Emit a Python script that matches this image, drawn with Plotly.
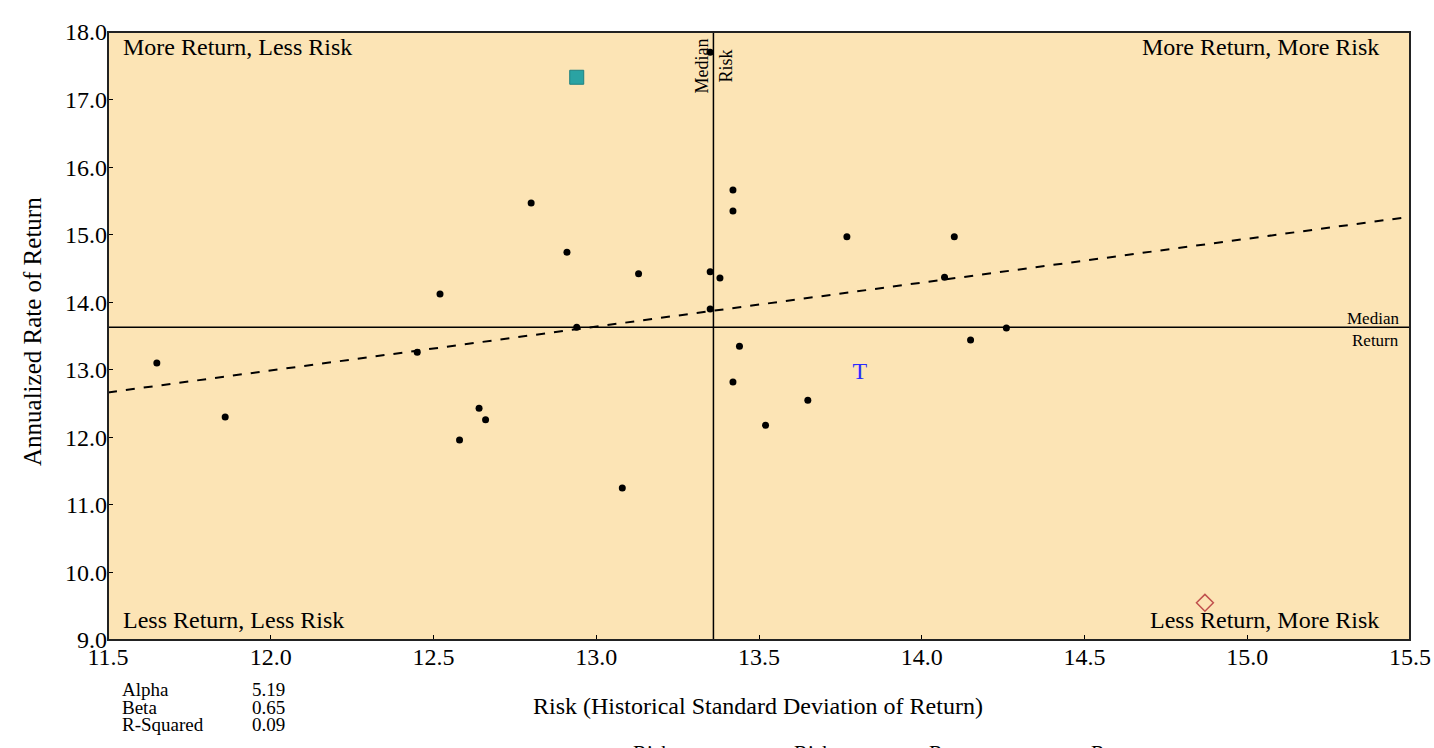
import plotly.graph_objects as go

# ---- data ----
risk = [11.65, 11.86, 12.45, 12.52, 12.64, 12.66, 12.58, 12.80, 12.91, 12.94,
        13.13, 13.08, 13.35, 13.38, 13.35, 13.35, 13.42, 13.42, 13.44, 13.42,
        13.52, 13.65, 13.77, 14.10, 14.07, 14.15, 14.26]
ret = [13.10, 12.30, 13.26, 14.12, 12.43, 12.26, 11.96, 15.47, 14.74, 13.63,
       14.42, 11.25, 14.45, 14.36, 13.90, 17.70, 15.66, 15.35, 13.35, 12.82,
       12.18, 12.55, 14.97, 14.97, 14.37, 13.44, 13.62]

square_pt = (12.94, 17.33)
t_pt = (13.81, 12.95)
diamond_pt = (14.87, 9.55)

median_risk = 13.36
median_return = 13.63
alpha = 5.19
beta = 0.65
r_squared = 0.09

x_ticks = [11.5, 12.0, 12.5, 13.0, 13.5, 14.0, 14.5, 15.0, 15.5]
y_ticks = [9.0, 10.0, 11.0, 12.0, 13.0, 14.0, 15.0, 16.0, 17.0, 18.0]
x_range = [11.5, 15.5]
y_range = [9.0, 18.0]

FONT = "Liberation Serif"
BG = "#FCE4B5"

# page geometry (body margin removed via post_script)
W, H = 1434, 748
PL, PR, PT, PB = 108, 1410, 32, 640   # plot area in page pixels
L, R, T, B = PL, W - PR, PT, H - PB
pw, ph = PR - PL, PB - PT

fig = go.Figure()

# regression line
fig.add_trace(go.Scatter(
    x=x_range, y=[alpha + beta * v for v in x_range], mode="lines",
    line=dict(color="black", width=2, dash="dash"), showlegend=False, hoverinfo="skip"))

# peer points
fig.add_trace(go.Scatter(
    x=risk, y=ret, mode="markers",
    marker=dict(color="black", size=7), showlegend=False))

# special markers
fig.add_trace(go.Scatter(
    x=[square_pt[0]], y=[square_pt[1]], mode="markers",
    marker=dict(symbol="square", size=14, color="#2AA3A3",
                line=dict(color="#1E8080", width=1)), showlegend=False))
fig.add_trace(go.Scatter(
    x=[t_pt[0]], y=[t_pt[1]], mode="text", text=["T"],
    textfont=dict(family=FONT, size=24, color="#2B2BFF"), showlegend=False))
fig.add_trace(go.Scatter(
    x=[diamond_pt[0]], y=[diamond_pt[1]], mode="markers",
    marker=dict(symbol="diamond-open", size=13, color="#C0504D",
                line=dict(width=1.5)), showlegend=False))

# median lines
fig.add_shape(type="line", x0=median_risk, x1=median_risk, y0=y_range[0], y1=y_range[1],
              xref="x", yref="y", line=dict(color="black", width=1.5))
fig.add_shape(type="line", x0=x_range[0], x1=x_range[1], y0=median_return, y1=median_return,
              xref="x", yref="y", line=dict(color="black", width=1.5))

# frame
fig.add_shape(type="rect", x0=0, x1=1, y0=0, y1=1, xref="paper", yref="paper",
              line=dict(color="#222", width=2))

ann = []
def px_x(p):
    return (p - PL) / pw
def px_y(p):
    return 1 - (p - PT) / ph

def add(text, x, y, xanchor="center", yanchor="middle", size=24, xref="x", yref="y",
        textangle=0, align="center", color="black"):
    if xref == "px":
        x, xref = px_x(x), "paper"
    if yref == "px":
        y, yref = px_y(y), "paper"
    ann.append(dict(text=text, x=x, y=y, xref=xref, yref=yref, xanchor=xanchor,
                    yanchor=yanchor, showarrow=False, textangle=textangle, align=align,
                    font=dict(family=FONT, size=size, color=color)))

add("More Return, Less Risk", 121, 47, "left", "middle", xref="px", yref="px")
add("More Return, More Risk", 1381, 47, "right", "middle", xref="px", yref="px")
add("Less Return, Less Risk", 121, 620, "left", "middle", xref="px", yref="px")
add("Less Return, More Risk", 1381, 620, "right", "middle", xref="px", yref="px")

add("Median<br>Risk", median_risk, 66, "center", "middle", size=18, yref="px", textangle=-90)
add("Median", 1401, 318, "right", "middle", size=17, xref="px", yref="px")
add("Return", 1401, 340, "right", "middle", size=17, xref="px", yref="px")

# axis titles
add("Risk (Historical Standard Deviation of Return)", 758, 706, "center", "middle",
    xref="px", yref="px")
add("Annualized Rate of Return", 32, 332, "center", "middle", size=25, xref="px", yref="px",
    textangle=-90)

# stats
stats = [("Alpha", alpha), ("Beta", beta), ("R-Squared", r_squared)]
for i, (lab, val) in enumerate(stats):
    add(lab, 120, 690 + 17 * i, "left", "middle", size=19, xref="px", yref="px")
    add(f"{val:.2f}", 287, 690 + 17 * i, "right", "middle", size=19, xref="px", yref="px")

# bottom (cut) legend labels
for xp, lab in [(652, "Risk"), (814, "Risk"), (958, "Return"), (1120, "Return")]:
    add(lab, xp, 739, "center", "top", size=21, xref="px", yref="px")

fig.update_layout(
    width=W, height=H,
    margin=dict(l=L, r=R, t=T, b=B, autoexpand=False),
    paper_bgcolor="white", plot_bgcolor=BG,
    font=dict(family=FONT, size=24, color="black"),
    annotations=ann,
    xaxis=dict(range=x_range, tickvals=x_ticks, ticktext=[f"{v:.1f}" for v in x_ticks],
               showgrid=False, zeroline=False, ticks="inside", ticklen=5, automargin=False,
               ticklabeloverflow="allow",
               tickcolor="black", tickfont=dict(family=FONT, size=24), showline=False),
    yaxis=dict(range=y_range, tickvals=y_ticks, ticktext=[f"{v:.1f}" for v in y_ticks],
               showgrid=False, zeroline=False, ticks="inside", ticklen=5, automargin=False,
               tickcolor="black", tickfont=dict(family=FONT, size=24), showline=False),
)

fig.write_html("out.html", config={"displayModeBar": False},
               post_script="document.body.style.margin='0';document.body.style.overflow='hidden';")
